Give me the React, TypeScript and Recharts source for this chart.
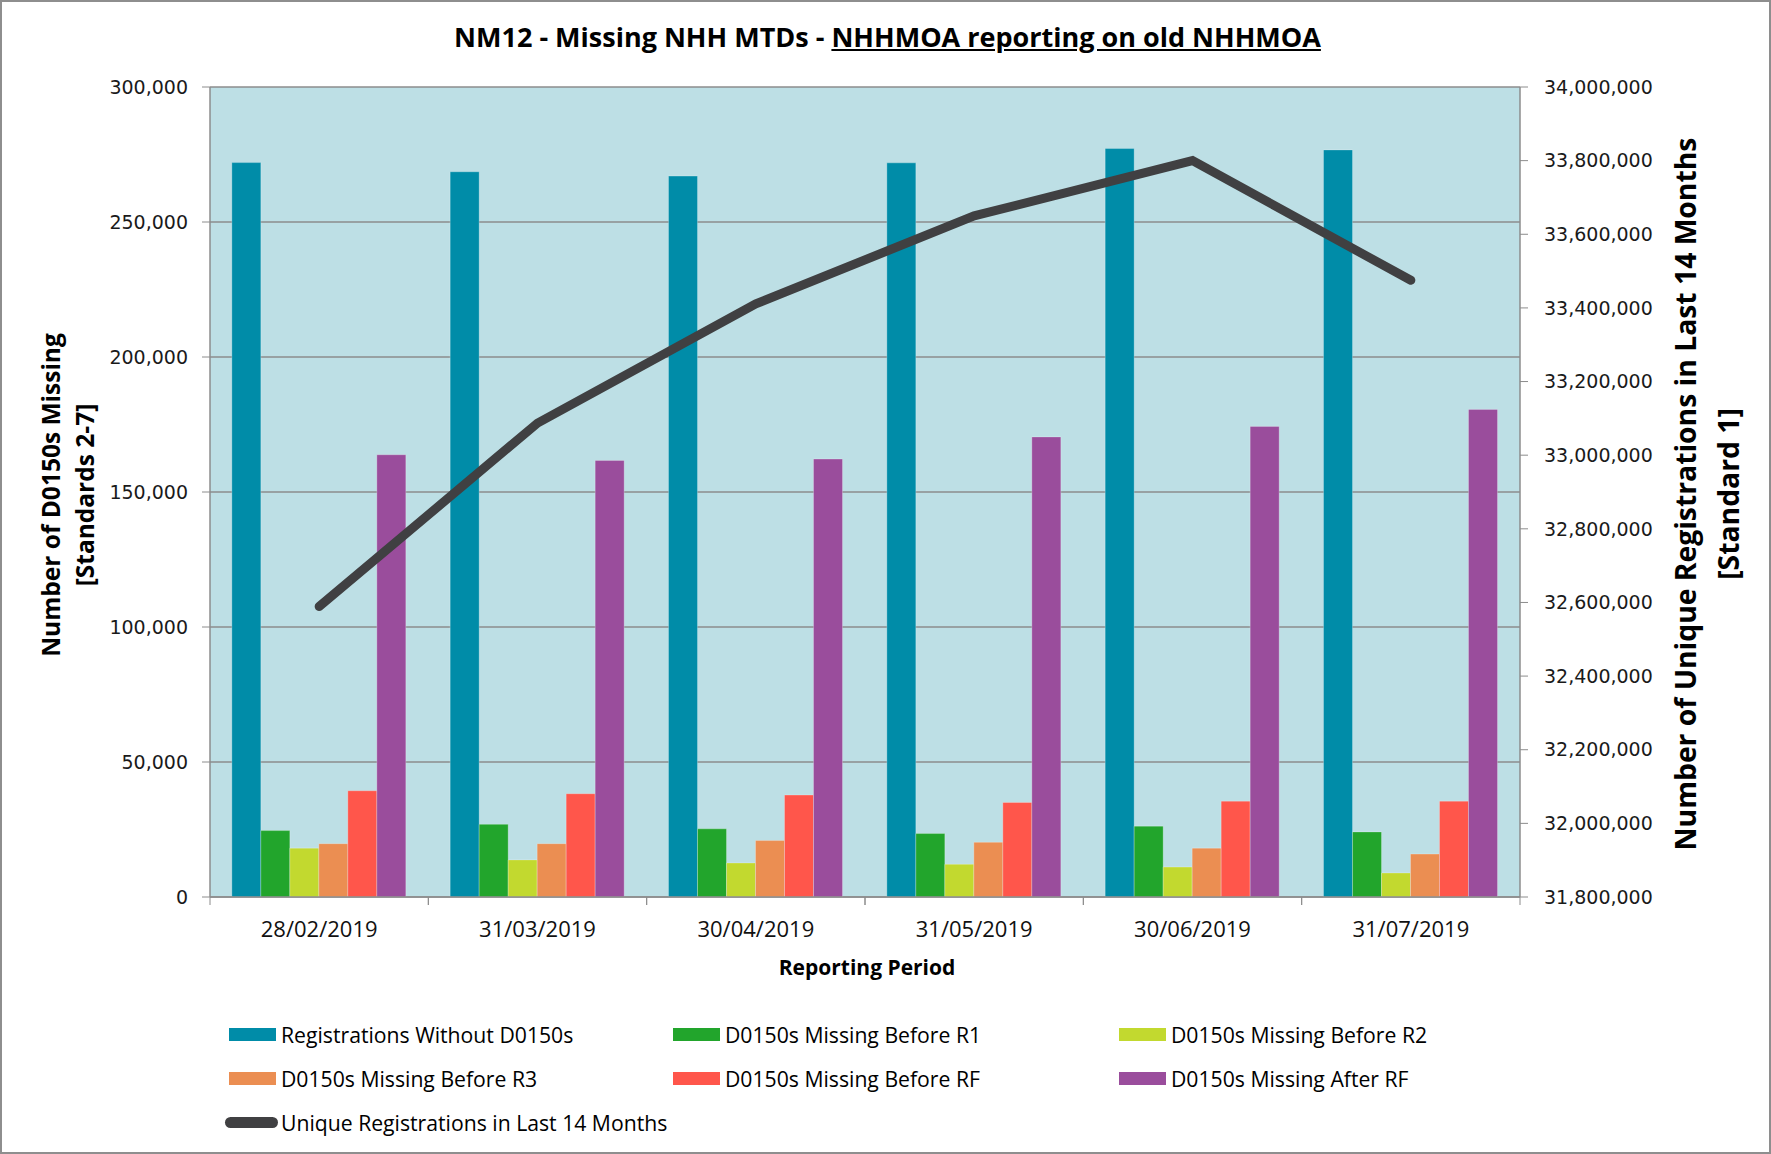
import { ComposedChart, Bar, Line, XAxis, YAxis, CartesianGrid } from "recharts";

const periods = ["28/02/2019", "31/03/2019", "30/04/2019", "31/05/2019", "30/06/2019", "31/07/2019"];
const registrationsWithout = [272000, 268600, 267000, 271900, 277200, 276700];
const missingBeforeR1 = [24600, 26900, 25250, 23500, 26250, 24100];
const missingBeforeR2 = [18100, 13750, 12600, 12100, 11100, 8900];
const missingBeforeR3 = [19750, 19750, 20900, 20250, 18100, 15900];
const missingBeforeRF = [39350, 38250, 37750, 35000, 35500, 35500];
const missingAfterRF = [163800, 161700, 162200, 170400, 174300, 180600];
const uniqueRegistrations = [32589000, 33087000, 33411000, 33650000, 33800000, 33475000];

const leftTicks = [0, 50000, 100000, 150000, 200000, 250000, 300000];
const rightTicks = [
  31800000, 32000000, 32200000, 32400000, 32600000, 32800000,
  33000000, 33200000, 33400000, 33600000, 33800000, 34000000,
];

const barSeries = [
  { key: "without", name: "Registrations Without D0150s", color: "#008ca8", values: registrationsWithout },
  { key: "r1", name: "D0150s Missing Before R1", color: "#22a52c", values: missingBeforeR1 },
  { key: "r2", name: "D0150s Missing Before R2", color: "#c2d92f", values: missingBeforeR2 },
  { key: "r3", name: "D0150s Missing Before R3", color: "#eb8e52", values: missingBeforeR3 },
  { key: "rf", name: "D0150s Missing Before RF", color: "#ff564b", values: missingBeforeRF },
  { key: "after", name: "D0150s Missing After RF", color: "#9a4d9c", values: missingAfterRF },
];
const lineName = "Unique Registrations in Last 14 Months";
const lineColor = "#404042";

const data = periods.map((period, i) => {
  const row: Record<string, string | number> = { period, unique: uniqueRegistrations[i] };
  barSeries.forEach((s) => (row[s.key] = s.values[i]));
  return row;
});

const fmt = (v: number) => v.toLocaleString("en-US");
const sans = "'Open Sans', sans-serif";
const gridGray = "#8c8c8c";

function PeriodTick(props: any) {
  const { x, y, payload } = props;
  const half = payload && payload.offset ? payload.offset : 109.2;
  return (
    <g>
      <line x1={x - half} x2={x - half} y1={y} y2={y + 8} stroke={gridGray} />
      <line x1={x + half} x2={x + half} y1={y} y2={y + 8} stroke={gridGray} />
      <text x={x} y={y + 40} textAnchor="middle" fontFamily={sans} fontSize={22} fill="#111">
        {payload.value}
      </text>
    </g>
  );
}

const legendCols = [227, 671, 1117];
const legendRows = [1032, 1076, 1120];

export default function App() {
  const tickStyle = { fontFamily: "'DejaVu Sans', sans-serif", fontSize: 19, fill: "#1a1a1a" };
  return (
    <div
      style={{
        position: "absolute",
        left: 0,
        top: 0,
        width: 1771,
        height: 1154,
        background: "#fff",
        border: "2px solid #8e8e8e",
        boxSizing: "border-box",
        fontFamily: sans,
        color: "#000",
      }}
    >
      <div
        style={{
          position: "absolute",
          left: 0,
          width: 1771,
          top: 17,
          textAlign: "center",
          fontWeight: 700,
          fontSize: 27,
          lineHeight: "36px",
        }}
      >
        NM12 - Missing NHH MTDs - <span style={{ textDecoration: "underline" }}>NHHMOA reporting on old NHHMOA</span>
      </div>

      <div style={{ position: "absolute", left: -2, top: -2 }}>
        <ComposedChart
          width={1771}
          height={1154}
          data={data}
          margin={{ top: 87, right: 0, bottom: 0, left: 0 }}
          barCategoryGap="10%"
          barGap={0}
        >
          <CartesianGrid yAxisId="left" vertical={false} fill="#bddfe5" stroke={gridGray} strokeWidth={1.5} />
          <XAxis
            dataKey="period"
            height={257}
            tickLine={false}
            tickSize={0}
            tickMargin={0}
            axisLine={{ stroke: gridGray, strokeWidth: 1.5 }}
            tick={<PeriodTick />}
            interval={0}
          />
          <YAxis
            yAxisId="left"
            orientation="left"
            width={210}
            domain={[0, 300000]}
            ticks={leftTicks}
            tickFormatter={fmt}
            tick={tickStyle}
            tickSize={8}
            tickMargin={14}
            axisLine={{ stroke: gridGray, strokeWidth: 1.5 }}
            tickLine={{ stroke: gridGray }}
          />
          <YAxis
            yAxisId="right"
            orientation="right"
            width={251}
            domain={[31800000, 34000000]}
            ticks={rightTicks}
            tickFormatter={fmt}
            tick={tickStyle}
            tickSize={8}
            tickMargin={16}
            axisLine={{ stroke: gridGray, strokeWidth: 1.5 }}
            tickLine={{ stroke: gridGray }}
          />
          {barSeries.map((s) => (
            <Bar
              key={s.key}
              yAxisId="left"
              dataKey={s.key}
              name={s.name}
              fill={s.color}
              stroke="rgba(255,255,255,0.25)"
              strokeWidth={1}
              isAnimationActive={false}
            />
          ))}
          <Line
            yAxisId="right"
            dataKey="unique"
            name={lineName}
            type="linear"
            stroke={lineColor}
            strokeWidth={9}
            strokeLinecap="round"
            strokeLinejoin="miter"
            dot={false}
            activeDot={false}
            isAnimationActive={false}
          />
        </ComposedChart>
      </div>

      <div
        style={{
          position: "absolute",
          left: 865 - 200,
          width: 400,
          top: 950,
          textAlign: "center",
          fontWeight: 700,
          fontSize: 21,
          lineHeight: "30px",
        }}
      >
        Reporting Period
      </div>

      {[
        { text: "Number of D0150s Missing", x: 49, y: 493, size: 24.5 },
        { text: "[Standards 2-7]", x: 83, y: 493, size: 24.5 },
        { text: "Number of Unique Registrations in Last 14 Months", x: 1683, y: 492, size: 28.3 },
        { text: "[Standard 1]", x: 1726, y: 492, size: 28.3 },
      ].map((t) => (
        <div
          key={t.text}
          style={{
            position: "absolute",
            left: t.x - 450,
            top: t.y - 20,
            width: 900,
            height: 40,
            lineHeight: "40px",
            textAlign: "center",
            fontWeight: 700,
            fontSize: t.size,
            transform: "rotate(-90deg)",
            whiteSpace: "nowrap",
          }}
        >
          {t.text}
        </div>
      ))}

      {barSeries.map((s, i) => (
        <div
          key={s.key}
          style={{
            position: "absolute",
            left: legendCols[i % 3],
            top: legendRows[Math.floor(i / 3)] - 15,
            height: 30,
            display: "flex",
            alignItems: "center",
            whiteSpace: "nowrap",
            fontSize: 21.2,
          }}
        >
          <span style={{ display: "inline-block", width: 47, height: 13, background: s.color, marginRight: 5 }} />
          {s.name}
        </div>
      ))}
      <div
        style={{
          position: "absolute",
          left: legendCols[0] - 4,
          top: legendRows[2] - 15,
          height: 30,
          display: "flex",
          alignItems: "center",
          whiteSpace: "nowrap",
          fontSize: 21.2,
        }}
      >
        <span
          style={{ display: "inline-block", width: 53, height: 11, borderRadius: 6, background: lineColor, marginRight: 3 }}
        />
        {lineName}
      </div>
    </div>
  );
}
